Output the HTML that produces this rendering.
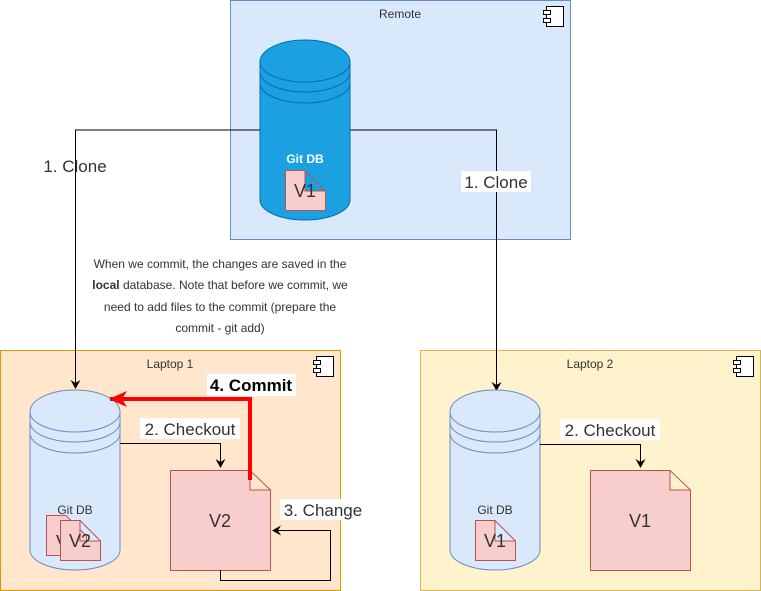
<!DOCTYPE html>
<html><head><meta charset="utf-8"><style>
html,body{margin:0;padding:0;background:#fff;}
svg{display:block;font-family:"Liberation Sans",Arial,sans-serif;}
</style></head><body>
<svg width="761" height="591" viewBox="0 0 761 591" xmlns="http://www.w3.org/2000/svg">
<defs>
<marker id="ah" markerWidth="10" markerHeight="10" refX="8" refY="5" orient="auto" markerUnits="userSpaceOnUse"><path d="M0,0 L9,5 L0,10 L3,5 Z" fill="#000"/></marker>
<marker id="ahr" markerWidth="20" markerHeight="16" refX="17" refY="8" orient="auto" markerUnits="userSpaceOnUse"><path d="M0,0 L18,8 L0,16 L5,8 Z" fill="#f00"/></marker>
</defs>
<rect x="230.5" y="0.5" width="340" height="239" fill="#dae8fc" stroke="#6c8ebf"/>
<rect x="0.5" y="350.5" width="340" height="240" fill="#ffe6cc" stroke="#d79b00"/>
<rect x="420.5" y="350.5" width="340" height="240" fill="#fff2cc" stroke="#d6b656"/>
<text x="400" y="18" font-size="12" text-anchor="middle" fill="#333">Remote</text>
<text x="170" y="368" font-size="12" text-anchor="middle" fill="#333">Laptop 1</text>
<text x="590" y="368" font-size="12" text-anchor="middle" fill="#333">Laptop 2</text>
<g fill="#fff" stroke="#000" stroke-width="1">
<rect x="546.5" y="6.5" width="17" height="20"/><rect x="543.5" y="10.5" width="7" height="4"/><rect x="543.5" y="18.5" width="7" height="4"/>
<rect x="316.5" y="356.5" width="17" height="20"/><rect x="313.5" y="360.5" width="7" height="4"/><rect x="313.5" y="368.5" width="7" height="4"/>
<rect x="736.5" y="356.5" width="17" height="20"/><rect x="733.5" y="360.5" width="7" height="4"/><rect x="733.5" y="368.5" width="7" height="4"/>
</g>
<path d="M260,130 H75.5 V388" fill="none" stroke="#000" marker-end="url(#ah)"/>
<path d="M350,130 H496.5 V390" fill="none" stroke="#000" marker-end="url(#ah)"/>
<g stroke="#006eaf" fill="#1ba1e2">
<path d="M260,62 A45,22 0 0 1 350,62 V200 A45,20 0 0 1 260,200 Z"/>
<path d="M260,62 A45,20 0 0 0 350,62 M260,72 A45,20 0 0 0 350,72 M260,83 A45,20 0 0 0 350,83" fill="none"/>
</g>
<text x="305" y="163" font-size="12" font-weight="bold" fill="#fff" text-anchor="middle">Git DB</text>
<path d="M285.5,170.5 H305 L325.5,191 V210.5 H285.5 Z M305,170.5 V191 H325.5" fill="#f8cecc" stroke="#b85450"/>
<text x="305" y="197" font-size="18" fill="#333" text-anchor="middle">V1</text>
<text x="75" y="172" font-size="17" fill="#333" text-anchor="middle">1. Clone</text>
<rect x="461" y="171" width="70" height="21" fill="#fff"/>
<text x="496" y="188" font-size="17" fill="#333" text-anchor="middle">1. Clone</text>
<g font-size="12" fill="#333" text-anchor="middle">
<text x="220" y="268">When we commit, the changes are saved in the</text>
<text x="220" y="289"><tspan font-weight="bold">local</tspan> database. Note that before we commit, we</text>
<text x="220" y="311">need to add files to the commit (prepare the</text>
<text x="220" y="332">commit - git add)</text>
</g>
<g stroke="#6c8ebf" fill="#dae8fc">
<path d="M30,412 A45,22 0 0 1 120,412 V550 A45,20 0 0 1 30,550 Z"/>
<path d="M30,412 A45,20 0 0 0 120,412 M30,422 A45,20 0 0 0 120,422 M30,433 A45,20 0 0 0 120,433" fill="none"/>
</g>
<text x="75" y="514" font-size="12" fill="#333" text-anchor="middle">Git DB</text>
<path d="M46.5,515.5 H66 L86.5,536 V555.5 H46.5 Z" fill="#f8cecc" stroke="#b85450"/>
<text x="56" y="548" font-size="18" fill="#333">V</text>
<path d="M60.5,520.5 H80 L100.5,541 V560.5 H60.5 Z M80,520.5 V541 H100.5" fill="#f8cecc" stroke="#b85450"/>
<text x="80" y="547" font-size="18" fill="#333" text-anchor="middle">V2</text>
<path d="M170.5,470.5 H250 L270.5,490 V570.5 H170.5 Z M250,470.5 V490 H270.5" fill="#f8cecc" stroke="#b85450"/>
<text x="220" y="527" font-size="18" fill="#333" text-anchor="middle">V2</text>
<path d="M120,443.5 H220.5 V467" fill="none" stroke="#000" marker-end="url(#ah)"/>
<rect x="140" y="418" width="100" height="21" fill="#fff"/>
<text x="190" y="435" font-size="17" fill="#333" text-anchor="middle">2. Checkout</text>
<path d="M220.5,570 V580.5 H330.5 V530.5 H273" fill="none" stroke="#000" marker-end="url(#ah)"/>
<rect x="280" y="499" width="86" height="21" fill="#fff"/>
<text x="323" y="516" font-size="17" fill="#333" text-anchor="middle">3. Change</text>
<path d="M250,480 V399 H110" fill="none" stroke="#f00" stroke-width="4" marker-end="url(#ahr)"/>
<rect x="207" y="374" width="89" height="22" fill="#fff"/>
<text x="251" y="391" font-size="17" font-weight="bold" fill="#000" text-anchor="middle">4. Commit</text>
<g stroke="#6c8ebf" fill="#dae8fc">
<path d="M450,412 A45,22 0 0 1 540,412 V550 A45,20 0 0 1 450,550 Z"/>
<path d="M450,412 A45,20 0 0 0 540,412 M450,422 A45,20 0 0 0 540,422 M450,433 A45,20 0 0 0 540,433" fill="none"/>
</g>
<text x="495" y="514" font-size="12" fill="#333" text-anchor="middle">Git DB</text>
<path d="M475.5,520.5 H495 L515.5,541 V560.5 H475.5 Z M495,520.5 V541 H515.5" fill="#f8cecc" stroke="#b85450"/>
<text x="495" y="547" font-size="18" fill="#333" text-anchor="middle">V1</text>
<path d="M590.5,470.5 H670 L690.5,490 V570.5 H590.5 Z M670,470.5 V490 H690.5" fill="#f8cecc" stroke="#b85450"/>
<text x="640" y="527" font-size="18" fill="#333" text-anchor="middle">V1</text>
<path d="M540,444.5 H640.5 V467" fill="none" stroke="#000" marker-end="url(#ah)"/>
<rect x="560" y="419" width="100" height="21" fill="#fff"/>
<text x="610" y="436" font-size="17" fill="#333" text-anchor="middle">2. Checkout</text>
</svg>
</body></html>
